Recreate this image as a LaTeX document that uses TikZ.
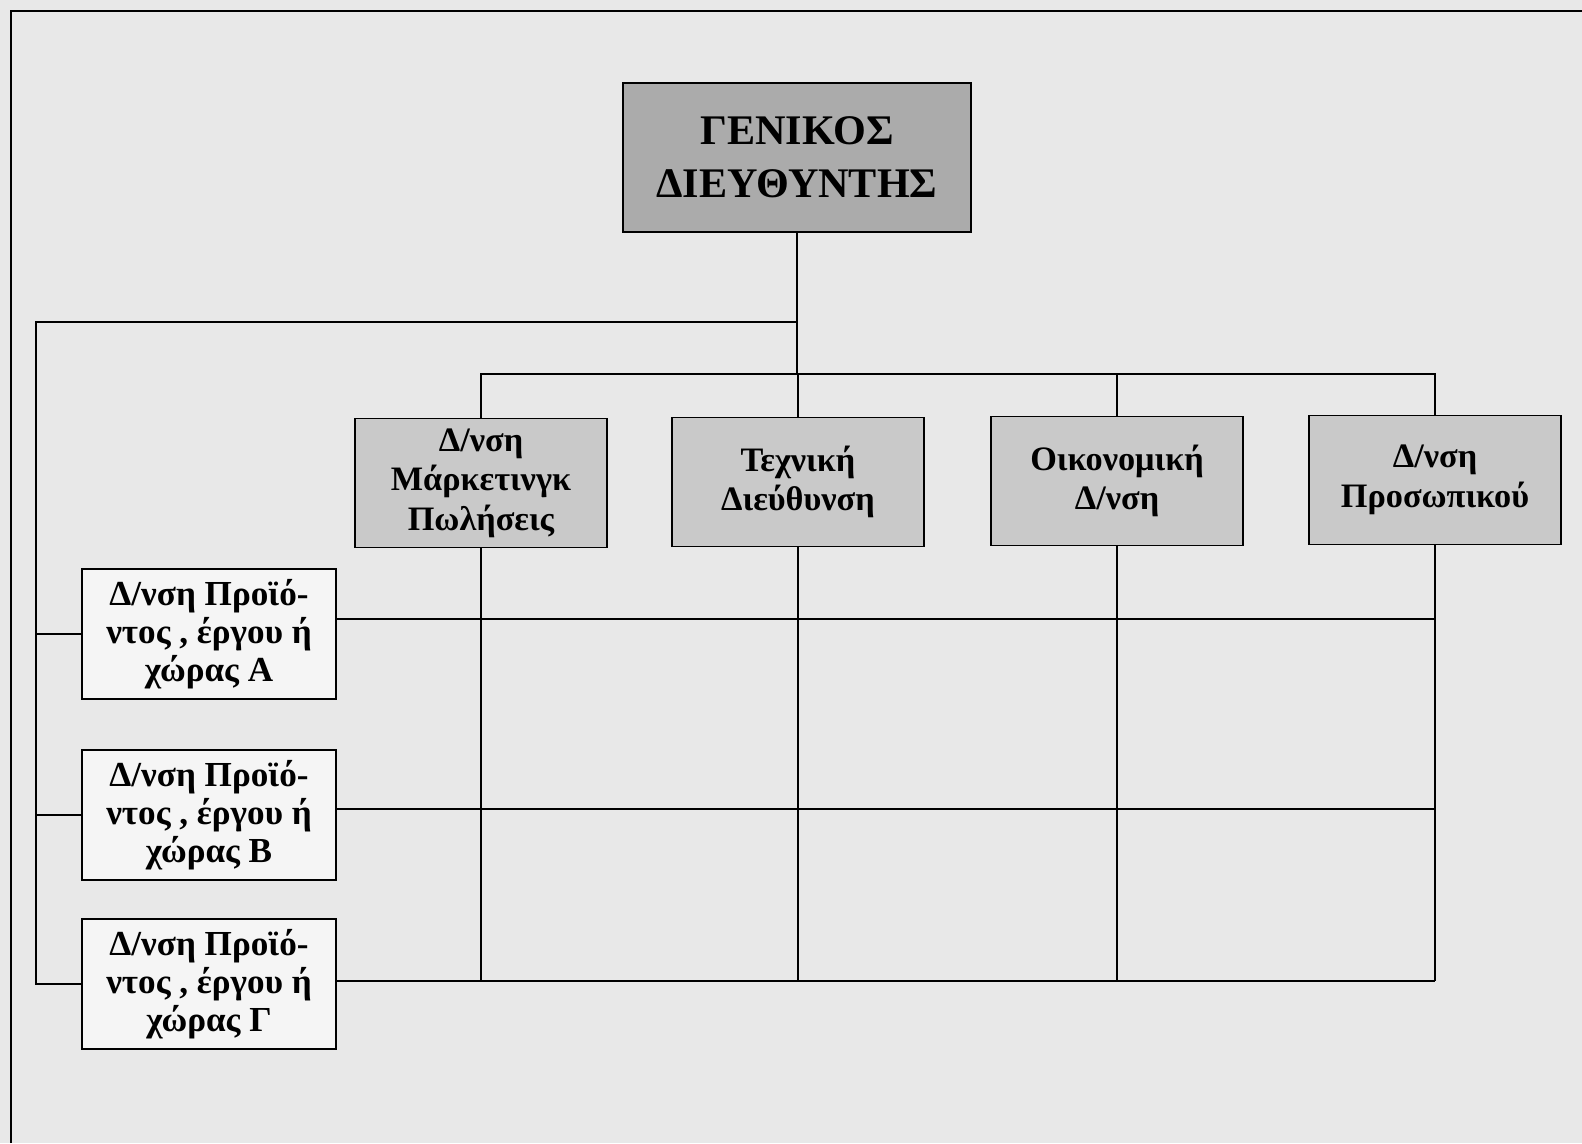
\documentclass[tikz,border=0pt]{standalone}
\usepackage{fontspec}
\setmainfont{Liberation Serif}
\definecolor{paper}{gray}{0.91}
\definecolor{topgray}{gray}{0.67}
\definecolor{deptgray}{gray}{0.79}
\definecolor{unitgray}{gray}{0.96}

\begin{document}
\begin{tikzpicture}[x=0.02cm,y=-0.02cm,line width=1pt,
  gm/.style={draw,fill=topgray,inner sep=0pt,minimum width=6.96cm,minimum height=2.98cm,
    align=center,font=\fontsize{24}{30}\selectfont\bfseries},
  dept/.style={draw,fill=deptgray,inner sep=0pt,minimum width=5.04cm,minimum height=2.58cm,
    align=center,font=\fontsize{19.5}{22.5}\selectfont\bfseries},
  unit/.style={draw,fill=unitgray,inner sep=0pt,minimum width=5.08cm,minimum height=2.6cm,
    align=center,font=\fontsize{20}{21.5}\selectfont\bfseries}]
\useasboundingbox (0,0) rectangle (1582,1143);
\fill[paper] (0,0) rectangle (1582,1143);
\draw (11,1143) -- (11,11) -- (1582,11);
% General manager
\node[gm] (gm) at (797,157.5) {ΓΕΝΙΚΟΣ\\ΔΙΕΥΘΥΝΤΗΣ};
% Functional departments
\node[dept] (mkt) at (481,483) {Δ/νση\\Μάρκετινγκ\\Πωλήσεις};
\node[dept] (tech) at (798,482) {Τεχνική\\Διεύθυνση};
\node[dept] (fin) at (1117,481) {Οικονομική\\Δ/νση};
\node[dept] (hr) at (1435,480) {Δ/νση\\Προσωπικού};
% Product / project / country units
\node[unit] (uA) at (209,634) {Δ/νση Προϊό-\\ντος , έργου ή\\χώρας Α};
\node[unit] (uB) at (209,815) {Δ/νση Προϊό-\\ντος , έργου ή\\χώρας Β};
\node[unit] (uC) at (209,984) {Δ/νση Προϊό-\\ντος , έργου ή\\χώρας Γ};
\coordinate (bus) at (797,374);
\coordinate (trunk) at (36,322);
\coordinate (rowA) at (0,619);
\coordinate (rowB) at (0,809);
\coordinate (rowC) at (0,981);
% Top connections
\draw (gm.south) -- (bus);
\draw (mkt.north) |- (bus) -| (hr.north);
\draw (tech.north) -- (tech.north |- bus);
\draw (fin.north) -- (fin.north |- bus);
\draw (gm.south |- trunk) -- (trunk) |- (uC.west);
\draw (uA.west) -- (uA.west -| trunk);
\draw (uB.west) -- (uB.west -| trunk);
% Matrix grid
\foreach \d in {mkt,tech,fin,hr}
  \draw (\d.south) -- (\d.south |- rowC);
\draw (uA.east |- rowA) -- (hr.south |- rowA);
\draw (uB.east |- rowB) -- (hr.south |- rowB);
\draw (uC.east |- rowC) -- (hr.south |- rowC);
\end{tikzpicture}
\end{document}
